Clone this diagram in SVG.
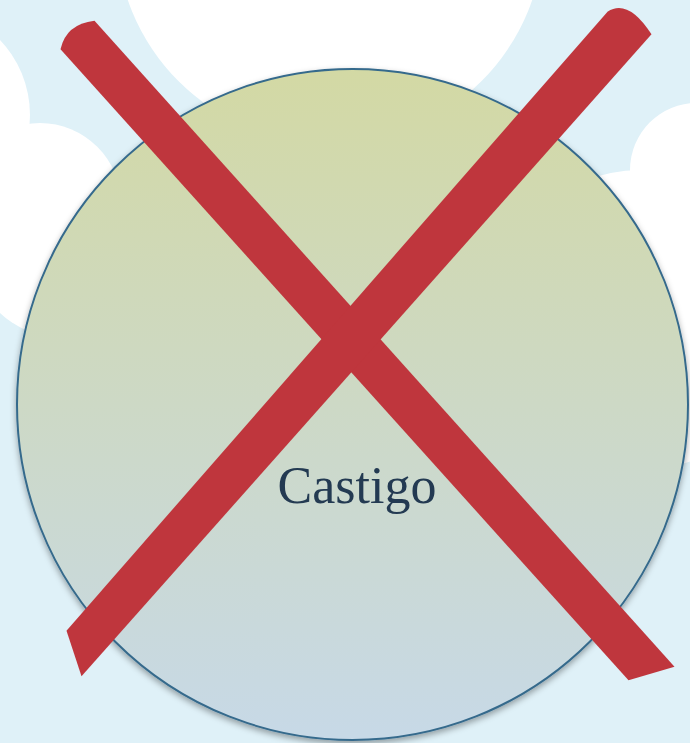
<svg xmlns="http://www.w3.org/2000/svg" width="690" height="743" viewBox="0 0 690 743">
  <defs>
    <linearGradient id="fillGrad" x1="0" y1="0" x2="0" y2="1">
      <stop offset="0" stop-color="#d3d9a4"/>
      <stop offset="1" stop-color="#c7d9e7"/>
    </linearGradient>
    <filter id="shadow" x="-10%" y="-10%" width="120%" height="120%">
      <feDropShadow dx="0" dy="3" stdDeviation="3" flood-color="#000" flood-opacity="0.35"/>
    </filter>
    <style>
      .cloud { fill: #ffffff; }
      .stroke-x { fill: #bf363d; }
      .label { font-family: "Liberation Serif", "Times New Roman", serif; font-size: 52px; fill: #233a52; }
    </style>
  </defs>

  <rect x="0" y="0" width="690" height="743" fill="#dff1f8"/>

  <g id="clouds">
    <circle class="cloud" cx="330" cy="-70" r="214"/>
    <circle class="cloud" cx="-79" cy="115" r="109"/>
    <circle class="cloud" cx="40" cy="204" r="81"/>
    <circle class="cloud" cx="60" cy="250" r="87"/>
    <circle class="cloud" cx="697" cy="170" r="67"/>
    <circle class="cloud" cx="640" cy="320" r="150"/>
  </g>

  <g id="node-castigo">
    <circle cx="352.5" cy="404.5" r="335.5" fill="url(#fillGrad)" stroke="#366a8c" stroke-width="2" filter="url(#shadow)"/>
    <text class="label" x="357" y="503" text-anchor="middle">Castigo</text>
  </g>

  <g id="cross">
    <path class="stroke-x" d="M60.5,49.3 Q66,24 94.5,20.7 L674.5,666.7 L628.5,680.3 Z"/>
    <path class="stroke-x" d="M607.5,11.7 Q628,-2 651.5,34.3 L81.5,676.3 L66.5,630.7 Z"/>
  </g>

  <g id="connectors"></g>
</svg>
